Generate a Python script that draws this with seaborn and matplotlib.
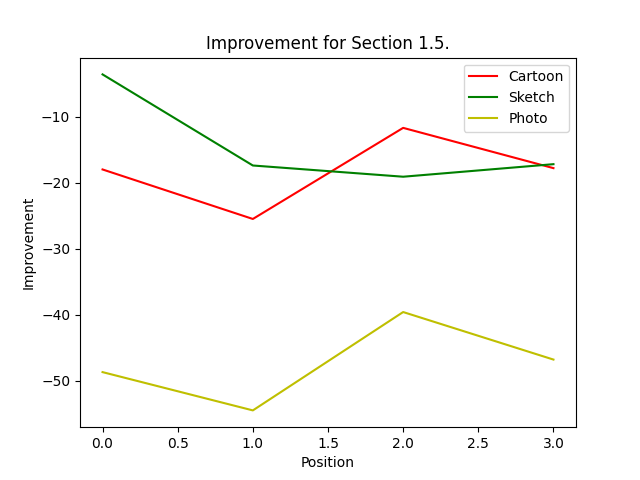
import matplotlib
matplotlib.use("Agg")
import matplotlib.pyplot as plt
import pandas as pd
import seaborn as sns

"""Data"""
positions = [0, 1, 2, 3]
cartoon = [-18.0, -25.5, -11.7, -17.8]
sketch = [-3.6, -17.4, -19.1, -17.2]
photo = [-48.7, -54.5, -39.6, -46.8]

df = pd.DataFrame({
    'Position': positions * 3,
    'Improvement': cartoon + sketch + photo,
    'Domain': ['Cartoon'] * 4 + ['Sketch'] * 4 + ['Photo'] * 4,
})

"""Plotting"""
fig, ax = plt.subplots(figsize=(6.4, 4.8), dpi=100)
sns.lineplot(data=df, x='Position', y='Improvement', hue='Domain',
             palette={'Cartoon': 'r', 'Sketch': 'g', 'Photo': 'y'}, ax=ax)
ax.set_title("Improvement for Section 1.5.")
ax.set_xlabel("Position")
ax.set_ylabel("Improvement")
ax.legend(loc='upper right')

fig.savefig("out.png")
